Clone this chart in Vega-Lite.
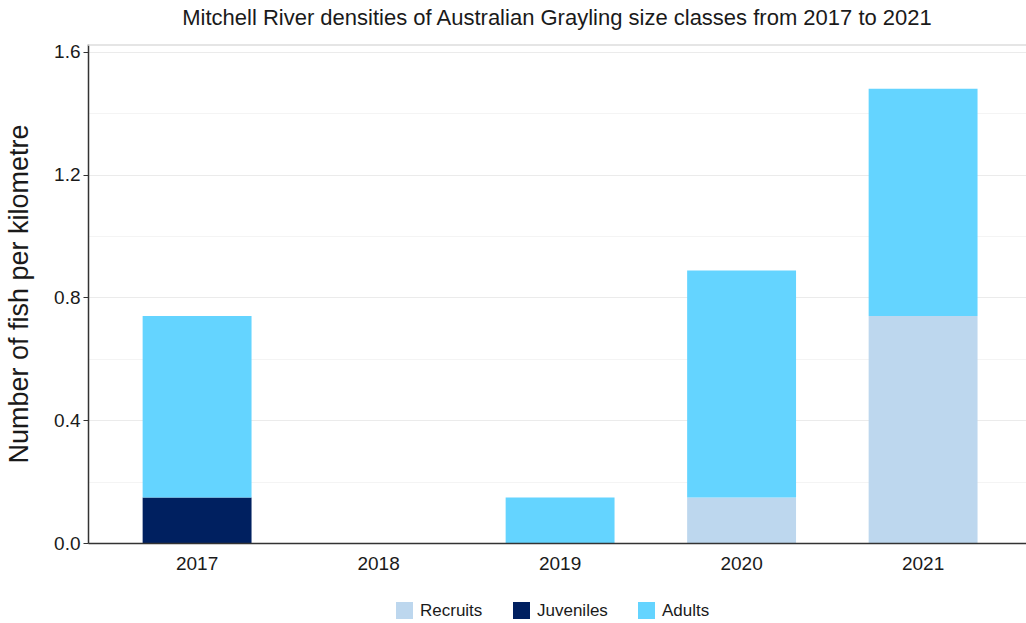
{
  "$schema": "https://vega.github.io/schema/vega-lite/v6.json",
  "autosize": "none",
  "width": 938,
  "height": 499,
  "padding": {"left": 88, "top": 44, "right": 0, "bottom": 80},
  "background": "white",
  "config": {
    "font": "Liberation Sans",
    "view": {"stroke": null}
  },
  "title": {
    "text": "Mitchell River densities of Australian Grayling size classes from 2017 to 2021",
    "fontSize": 22,
    "fontWeight": "normal",
    "color": "#1a1a1a",
    "anchor": "middle",
    "offset": 13
  },
  "data": {
    "values": [
      {"year": "2017", "class": "Recruits", "value": 0},
      {"year": "2017", "class": "Juveniles", "value": 0.148},
      {"year": "2017", "class": "Adults", "value": 0.592},
      {"year": "2018", "class": "Recruits", "value": 0},
      {"year": "2018", "class": "Juveniles", "value": 0},
      {"year": "2018", "class": "Adults", "value": 0},
      {"year": "2019", "class": "Recruits", "value": 0},
      {"year": "2019", "class": "Juveniles", "value": 0},
      {"year": "2019", "class": "Adults", "value": 0.148},
      {"year": "2020", "class": "Recruits", "value": 0.148},
      {"year": "2020", "class": "Juveniles", "value": 0},
      {"year": "2020", "class": "Adults", "value": 0.74},
      {"year": "2021", "class": "Recruits", "value": 0.74},
      {"year": "2021", "class": "Juveniles", "value": 0},
      {"year": "2021", "class": "Adults", "value": 0.74}
    ]
  },
  "layer": [
    {
      "mark": {"type": "rule", "color": "#dcdcdc", "strokeWidth": 1.5},
      "data": {"values": [{"g": 1.623}]},
      "encoding": {
        "y": {
          "field": "g", "type": "quantitative",
          "scale": {"domain": [0, 1.626], "nice": false},
          "axis": {
            "orient": "left",
            "title": null,
            "values": [0.2, 0.6, 1.0, 1.4],
            "labels": false, "ticks": false, "domain": false,
            "grid": true, "gridColor": "#f4f4f4", "gridWidth": 1.2
          }
        }
      }
    },
    {
      "mark": {"type": "bar"},
      "encoding": {
        "x": {
          "field": "year",
          "type": "ordinal",
          "scale": {"paddingInner": 0.4, "paddingOuter": 0.284, "align": 0.53},
          "axis": {
            "title": null,
            "labelAngle": 0,
            "labelFontSize": 19,
            "labelColor": "#1a1a1a",
            "labelPadding": 11,
            "ticks": false,
            "domainColor": "#333333",
            "domainWidth": 1.5,
            "grid": false,
            "zindex": 1
          }
        },
        "y": {
          "field": "value",
          "type": "quantitative",
          "stack": "zero",
          "scale": {"domain": [0, 1.626], "nice": false},
          "axis": {
            "orient": "left",
            "title": "Number of fish per kilometre",
            "titleFontSize": 27, "titleFontWeight": "normal", "titleColor": "#1a1a1a", "titlePadding": 20,
            "values": [0, 0.4, 0.8, 1.2, 1.6], "format": ".1f",
            "labelFontSize": 19, "labelColor": "#1a1a1a", "labelPadding": 3,
            "tickSize": 5, "tickColor": "#333333",
            "domainColor": "#333333", "domainWidth": 1.5,
            "grid": true, "gridColor": "#ebebeb", "gridWidth": 1.2
          }
        },
        "color": {
          "field": "class",
          "type": "nominal",
          "sort": ["Recruits", "Juveniles", "Adults"],
          "scale": {
            "domain": ["Recruits", "Juveniles", "Adults"],
            "range": ["#BDD7EE", "#002060", "#64D4FF"]
          },
          "legend": {
            "title": null,
            "orient": "none",
            "direction": "horizontal",
            "legendX": 308,
            "legendY": 558,
            "symbolType": "square",
            "symbolSize": 289,
            "symbolStrokeWidth": 0,
            "labelFontSize": 17,
            "labelColor": "#1a1a1a",
            "labelOffset": 7,
            "columnPadding": 30
          }
        },
        "order": {"field": "class", "sort": "descending"}
      }
    }
  ],
  "resolve": {"scale": {"y": "independent"}, "axis": {"y": "independent"}}
}
